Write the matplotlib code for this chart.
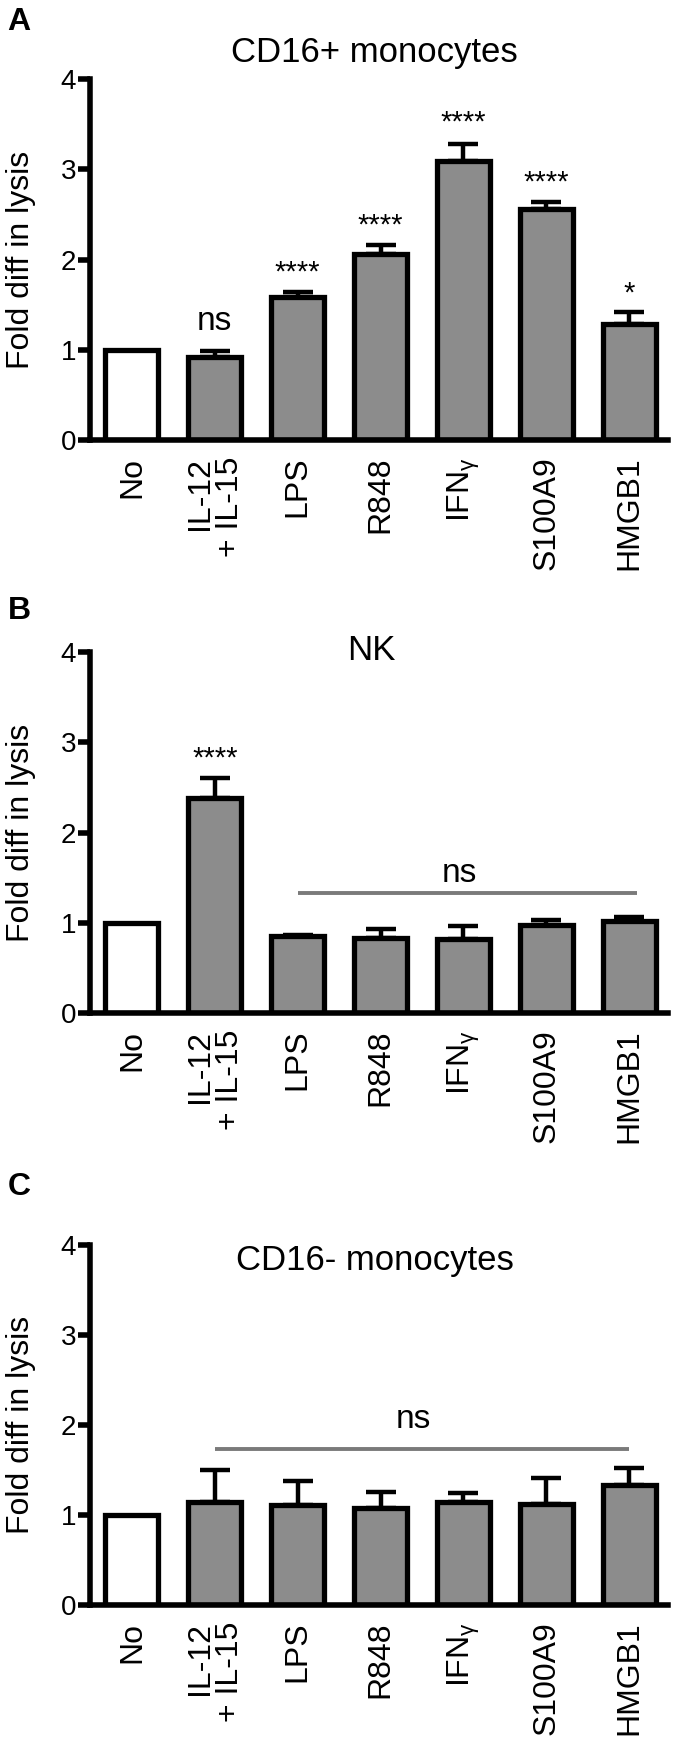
import matplotlib
matplotlib.use("Agg")
import matplotlib.pyplot as plt
import numpy as np

plt.rcParams['font.family'] = ['Liberation Sans', 'DejaVu Sans']

categories = ["No", "IL-12\n+ IL-15", "LPS", "R848", "IFN$_{\\mathregular{γ}}$", "S100A9", "HMGB1"]

# panel A: CD16+ monocytes
mean_a = [1.0, 0.92, 1.59, 2.06, 3.09, 2.56, 1.29]
err_a = [0.0, 0.07, 0.05, 0.10, 0.19, 0.08, 0.13]
sig_a = ["", "ns", "****", "****", "****", "****", "*"]
sig_y_a = [0, 1.31, 1.86, 2.38, 3.52, 2.85, 1.62]

# panel B: NK
mean_b = [1.0, 2.38, 0.85, 0.83, 0.82, 0.98, 1.02]
err_b = [0.0, 0.22, 0.01, 0.10, 0.14, 0.05, 0.05]
sig_b = ["", "****", "", "", "", "", ""]
sig_y_b = [0, 2.82, 0, 0, 0, 0, 0]

# panel C: CD16- monocytes
mean_c = [1.0, 1.15, 1.11, 1.08, 1.14, 1.12, 1.33]
err_c = [0.0, 0.35, 0.27, 0.18, 0.11, 0.29, 0.19]

fill = ["white"] + ["#8c8c8c"] * 6
x = np.arange(len(categories))

fig = plt.figure(figsize=(6.75, 17.38), dpi=100)
ax_a = fig.add_axes([0.1333, 0.7468, 0.8563, 0.2077])
ax_b = fig.add_axes([0.1333, 0.4171, 0.8563, 0.2077])
ax_c = fig.add_axes([0.1333, 0.0765, 0.8563, 0.2071])


def draw_panel(ax, means, errs):
    ax.bar(x, means, width=0.64, color=fill, edgecolor="black", linewidth=3.8, zorder=2)
    ax.errorbar(x[1:], means[1:], yerr=[np.zeros(6), errs[1:]], fmt="none",
                ecolor="black", elinewidth=3.2, capsize=11, capthick=3.2, zorder=1)
    ax.set_xlim(-0.507, 6.47)
    ax.set_ylim(0, 4)
    ax.set_yticks([0, 1, 2, 3, 4])
    ax.spines["top"].set_visible(False)
    ax.spines["right"].set_visible(False)
    ax.spines["left"].set_linewidth(4)
    ax.spines["bottom"].set_linewidth(4)
    ax.tick_params(axis="y", direction="out", length=9, width=4, labelsize=20, pad=1)
    ax.tick_params(axis="x", length=0, pad=12)
    ax.set_xticks(x)
    ax.set_xticklabels(categories, rotation=90, fontsize=23, multialignment="right",
                       linespacing=1.0)
    ax.set_ylabel("Fold diff in lysis", fontsize=23)
    ax.yaxis.set_label_coords(-0.093, 0.5)
    ax.patch.set_alpha(0)


draw_panel(ax_a, mean_a, err_a)
draw_panel(ax_b, mean_b, err_b)
draw_panel(ax_c, mean_c, err_c)

for i in range(len(categories)):
    if sig_a[i] == "ns":
        ax_a.text(x[i], sig_y_a[i], sig_a[i], ha="center", va="center", fontsize=24)
    elif sig_a[i]:
        ax_a.text(x[i], sig_y_a[i], sig_a[i], ha="center", va="center", fontsize=21)
    if sig_b[i]:
        ax_b.text(x[i], sig_y_b[i], sig_b[i], ha="center", va="center", fontsize=21)

# ns brackets
ax_b.plot([2.0, 6.1], [1.33, 1.33], color="#7a7a7a", lw=2.8, solid_capstyle="butt")
ax_b.text(3.95, 1.55, "ns", ha="center", va="center", fontsize=24)
ax_c.plot([1.0, 6.0], [1.73, 1.73], color="#7a7a7a", lw=2.8, solid_capstyle="butt")
ax_c.text(3.4, 2.06, "ns", ha="center", va="center", fontsize=24)

# titles
ax_a.text(2.93, 4.29, "CD16+ monocytes", ha="center", va="center", fontsize=25, clip_on=False)
ax_b.text(2.89, 4.02, "NK", ha="center", va="center", fontsize=25, clip_on=False)
ax_c.text(2.93, 3.83, "CD16- monocytes", ha="center", va="center", fontsize=25, clip_on=False)

# panel letters
fig.text(19 / 675, 1 - 22 / 1738, "A", ha="center", va="center", fontsize=23, fontweight="bold")
fig.text(19 / 675, 1 - 611 / 1738, "B", ha="center", va="center", fontsize=23, fontweight="bold")
fig.text(19 / 675, 1 - 1187 / 1738, "C", ha="center", va="center", fontsize=23, fontweight="bold")

fig.savefig("out.png", dpi=100)
